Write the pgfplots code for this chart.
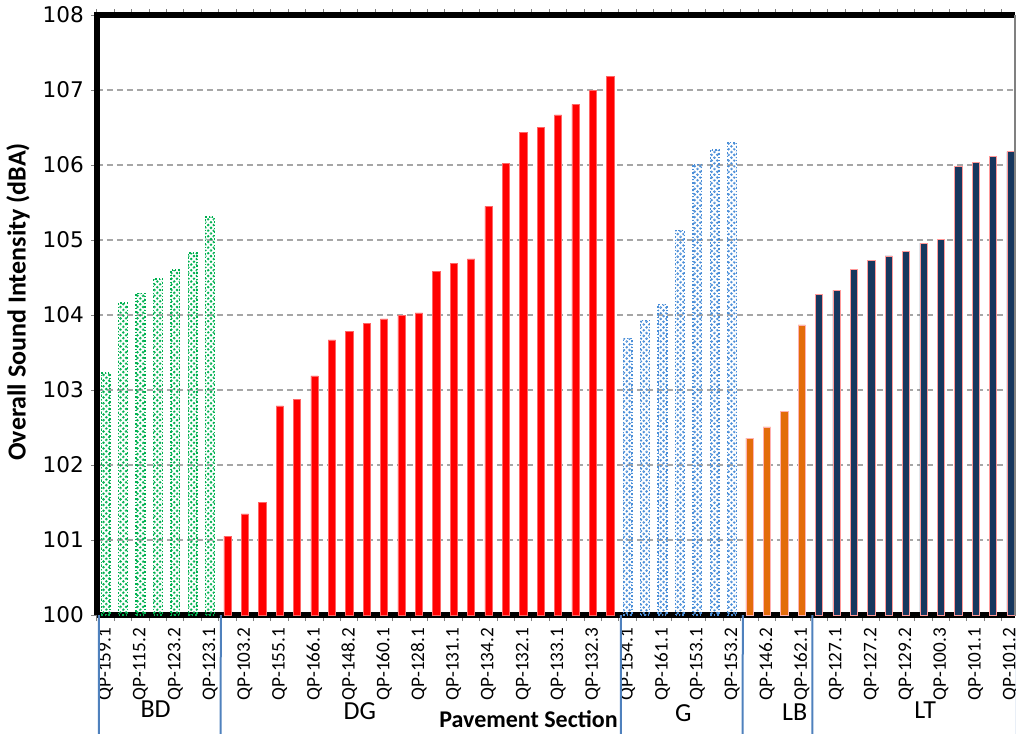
\documentclass[border=0pt]{standalone}
\usepackage{fontspec}
\setmainfont{Carlito}
\newfontfamily\dejavu{DejaVu Sans}
\usepackage{pgfplots}
\pgfplotsset{compat=1.18}
\usetikzlibrary{patterns.meta}
\definecolor{bdgreen}{HTML}{00B050}
\definecolor{dgred}{HTML}{FF0000}
\definecolor{gblue}{HTML}{4A8ED8}
\definecolor{lborange}{HTML}{E36C0A}
\definecolor{ltnavy}{HTML}{17375E}
\definecolor{gridgray}{HTML}{A6A6A6}
\definecolor{sepblue}{HTML}{4F81BD}

\begin{document}
\begin{tikzpicture}
\begin{axis}[
    at={(0,0)}, anchor=south west,
    scale only axis, width=459pt, height=300pt,
    ybar, bar shift=0pt,
    xmin=0.5, xmax=53.26, ymin=100, ymax=108,
    clip mode=individual,
    axis line style={draw=none},
    ytick={100,101,...,108},
    yticklabel style={font=\dejavu\fontsize{10.8}{12}\selectfont},
    /pgf/number format/assume math mode=true,
    ymajorgrids,
    grid style={gridgray, line width=0.6pt, dash pattern=on 3pt off 2pt},
    tick align=outside,
    major tick length=3pt, minor tick length=3pt,
    tick style={gray, line width=0.5pt},
    xtick={1,3,...,53},
    major x tick style={draw=none},
    minor xtick={0.5,1.5,...,53.5},
    xticklabels={QP-159.1,QP-115.2,QP-123.2,QP-123.1,QP-103.2,QP-155.1,QP-166.1,QP-148.2,QP-160.1,QP-128.1,QP-131.1,QP-134.2,QP-132.1,QP-133.1,QP-132.3,QP-154.1,QP-161.1,QP-153.1,QP-153.2,QP-146.2,QP-162.1,QP-127.1,QP-127.2,QP-129.2,QP-100.3,QP-101.1,QP-101.2},
    xticklabel style={rotate=90, anchor=east, font=\fontsize{9.6}{11}\selectfont},
]
% bottom axis line under the bars
\draw[black, line width=2.6pt] (rel axis cs:0,0) -- (rel axis cs:1,0);

% BD
\addplot[bar width=0.5, draw=bdgreen, densely dotted, line width=0.7pt,
    pattern={Lines[angle=45,distance=2pt,line width=1pt]}, pattern color=bdgreen]
    coordinates {(1,103.23) (2,104.16) (3,104.29) (4,104.48) (5,104.60) (6,104.83) (7,105.31)};
% DG
\addplot[bar width=0.42, fill=dgred, draw=dgred!60, line width=0.3pt]
    coordinates {(8,101.05) (9,101.35) (10,101.50) (11,102.79) (12,102.88) (13,103.19) (14,103.67) (15,103.78) (16,103.89) (17,103.95) (18,104.00) (19,104.03) (20,104.58) (21,104.69) (22,104.75) (23,105.45) (24,106.02) (25,106.44) (26,106.50) (27,106.67) (28,106.81) (29,107.00) (30,107.18)};
% G
\addplot[bar width=0.5, draw=gblue, densely dotted, line width=0.7pt,
    pattern={Lines[angle=-45,distance=2pt,line width=1pt]}, pattern color=gblue]
    coordinates {(31,103.69) (32,103.93) (33,104.14) (34,105.13) (35,106.01) (36,106.20) (37,106.30)};
% LB
\addplot[bar width=0.42, fill=lborange, draw=red!30, line width=0.3pt]
    coordinates {(38,102.36) (39,102.51) (40,102.72) (41,103.87)};
% LT
\addplot[bar width=0.42, fill=ltnavy, draw=red!40, line width=0.3pt]
    coordinates {(42,104.28) (43,104.33) (44,104.61) (45,104.73) (46,104.79) (47,104.85) (48,104.96) (49,105.01) (50,105.98) (51,106.04) (52,106.12) (53,106.18)};

% frame
\draw[black, line width=3pt] (rel axis cs:0,0) -- (rel axis cs:0,1) -- (rel axis cs:1,1);
\draw[gray, line width=0.6pt] (rel axis cs:1,0) -- (rel axis cs:1,1);

% group separators
\pgfplotsinvokeforeach{0.5,7.5,30.5,37.5,41.5,53.26}{
    \draw[sepblue, line width=1pt] ([xshift=1pt]axis cs:#1,100) -- ++(0,-49pt);
}

% group names
\node[font=\fontsize{13}{14}\selectfont] at ([yshift=-47pt]axis cs:3.87,100) {BD};
\node[font=\fontsize{13}{14}\selectfont] at ([yshift=-48pt]axis cs:15.6,100) {DG};
\node[font=\fontsize{13}{14}\selectfont] at ([yshift=-49pt]axis cs:34.2,100) {G};
\node[font=\fontsize{13}{14}\selectfont] at ([yshift=-48.5pt]axis cs:40.6,100) {LB};
\node[font=\fontsize{13}{14}\selectfont] at ([yshift=-47.5pt]axis cs:48.1,100) {LT};
\node[font=\bfseries\fontsize{12}{13}\selectfont] at ([yshift=-52pt]axis cs:25.3,100) {Pavement Section};
\node[rotate=90, font=\bfseries\fontsize{13}{14}\selectfont] at ([xshift=-39.5pt]rel axis cs:0,0.522) {Overall Sound Intensity (dBA)};
\end{axis}
\pgfresetboundingbox
\path (-48.5pt,-59pt) rectangle (459.5pt,307.5pt);
\end{tikzpicture}
\end{document}
